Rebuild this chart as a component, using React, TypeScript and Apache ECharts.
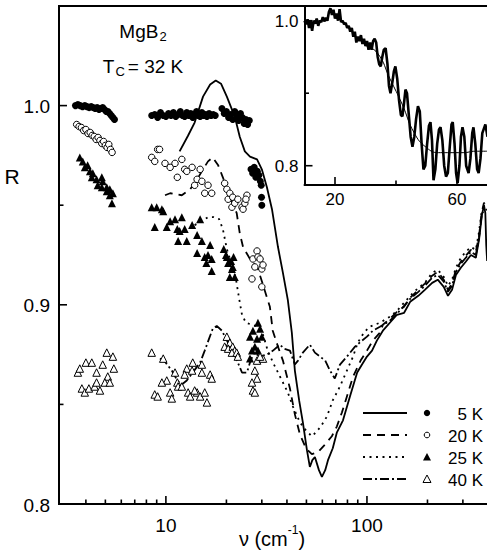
import React, { useEffect, useRef } from 'react';
import * as echarts from 'echarts';

const FONT = '"Liberation Sans", Arial, Helvetica, sans-serif';

// ---- main panel: reflectivity R vs wavenumber (cm^-1) ----
const line5K: [number, number][] = [
  [11.7, 0.977], [12.9, 0.985], [13.9, 0.9915], [15.3, 1.0045], [16.6, 1.0106], [17.7, 1.0126],
  [18.8, 1.011], [20.1, 1.0045], [22.0, 0.9945], [23.3, 0.9844], [24.7, 0.977], [26.2, 0.9744],
  [28.4, 0.973], [30.0, 0.968], [31.8, 0.959], [33.7, 0.948], [36.1, 0.929], [38.2, 0.916],
  [40.4, 0.9025], [42.3, 0.886], [43.8, 0.867], [46.0, 0.852], [48.0, 0.841], [50.3, 0.827],
  [52.0, 0.8186], [53.5, 0.822], [55.1, 0.8236], [57.7, 0.817], [59.7, 0.8136], [62.0, 0.817],
  [64.0, 0.822], [67.6, 0.828], [70.9, 0.836], [76.0, 0.842], [82.3, 0.854], [89.4, 0.866],
  [94.5, 0.87], [100, 0.874], [106, 0.877], [112, 0.882], [120, 0.887], [130, 0.891],
  [141, 0.895], [153, 0.896], [164, 0.9015], [180, 0.9045], [194, 0.9075], [211, 0.911],
  [225, 0.9126], [241, 0.909], [253, 0.9045], [265, 0.9075], [277, 0.915], [293, 0.9186],
  [310, 0.9216], [329, 0.925], [348, 0.9236], [361, 0.9327], [373, 0.945], [382, 0.95],
  [388, 0.946], [392, 0.93], [396, 0.922]
];
const line20K: [number, number][] = [
  [9.9, 0.955], [10.5, 0.956], [12.0, 0.955], [13.2, 0.958], [14.3, 0.963], [15.3, 0.968],
  [16.2, 0.972], [17.1, 0.974], [18.2, 0.97], [19.2, 0.964], [20.8, 0.954], [22.5, 0.946],
  [23.3, 0.936], [24.2, 0.929], [26.2, 0.923], [28.7, 0.918], [30.4, 0.91], [32.9, 0.899],
  [34.0, 0.887], [36.1, 0.879], [38.2, 0.872], [41.4, 0.858], [43.8, 0.845], [46.4, 0.835],
  [49.7, 0.828], [53.2, 0.825], [57.1, 0.826], [62.0, 0.83], [66.9, 0.834], [70.9, 0.839],
  [75.1, 0.846], [79.5, 0.854], [85.3, 0.864], [93.0, 0.872], [100, 0.877], [107, 0.882],
  [116, 0.886], [120, 0.89], [130, 0.893], [141, 0.8965], [153, 0.899], [164, 0.9035],
  [180, 0.9075], [194, 0.9106], [211, 0.9146], [225, 0.9166], [241, 0.9126], [253, 0.9075],
  [265, 0.9106], [277, 0.9176], [293, 0.9216], [310, 0.9246], [329, 0.9276], [348, 0.9266],
  [361, 0.9347], [373, 0.9467], [382, 0.9513], [395, 0.948]
];
const line25K: [number, number][] = [
  [13.9, 0.94], [15.1, 0.942], [16.2, 0.944], [17.3, 0.944], [18.4, 0.943], [19.2, 0.938],
  [20.1, 0.928], [21.3, 0.92], [22.3, 0.913], [23.1, 0.9035], [23.9, 0.895], [25.0, 0.891],
  [26.8, 0.89], [28.7, 0.889], [30.4, 0.885], [32.1, 0.877], [34.1, 0.871], [36.1, 0.866],
  [38.2, 0.861], [40.4, 0.856], [42.8, 0.849], [46.4, 0.841], [49.7, 0.837], [53.2, 0.834],
  [55.8, 0.836], [59.0, 0.839], [63.3, 0.844], [67.6, 0.852], [73.4, 0.859], [79.5, 0.867],
  [85.3, 0.874], [90.0, 0.881], [96.6, 0.886], [103, 0.889], [116, 0.891], [130, 0.894],
  [141, 0.897], [153, 0.901], [164, 0.9045], [180, 0.9085], [194, 0.911], [211, 0.916],
  [225, 0.9176], [241, 0.914], [253, 0.9095], [265, 0.9126], [277, 0.9186], [293, 0.9236],
  [310, 0.9266], [329, 0.929], [348, 0.9276], [361, 0.9367], [373, 0.9477], [395, 0.949]
];
const line40K: [number, number][] = [
  [9.34, 0.873], [9.9, 0.8714], [10.7, 0.867], [11.4, 0.862], [12.0, 0.86], [12.7, 0.862],
  [13.6, 0.866], [14.8, 0.871], [15.6, 0.877], [16.4, 0.883], [17.1, 0.888], [17.9, 0.8894],
  [19.0, 0.887], [20.1, 0.882], [21.5, 0.877], [22.8, 0.871], [23.9, 0.866], [25.3, 0.866],
  [26.2, 0.871], [27.4, 0.876], [29.4, 0.874], [31.8, 0.875], [34.1, 0.877], [36.9, 0.88],
  [38.7, 0.878], [41.4, 0.877], [43.8, 0.87], [45.4, 0.872], [48.0, 0.876], [52.0, 0.88],
  [55.1, 0.876], [58.4, 0.874], [62.0, 0.872], [65.5, 0.867], [69.2, 0.863], [73.4, 0.87],
  [79.5, 0.874], [87.2, 0.879], [94.5, 0.882], [100, 0.884], [107, 0.887], [116, 0.889],
  [130, 0.892], [141, 0.8955], [153, 0.8995], [164, 0.903], [180, 0.9065], [194, 0.9095],
  [211, 0.9136], [225, 0.915], [241, 0.9116], [253, 0.9065], [265, 0.9095], [277, 0.9166],
  [293, 0.9206], [310, 0.9236], [329, 0.9266], [348, 0.925], [361, 0.9337], [373, 0.946],
  [395, 0.948]
];

const dots5K: [number, number][] = [
  [3.55, 1.0], [3.65, 1.0005], [3.75, 1.0], [3.85, 0.9995], [3.95, 1.0], [4.05, 0.9995],
  [4.15, 0.999], [4.25, 0.9995], [4.35, 0.999], [4.45, 0.9985], [4.55, 0.999], [4.65, 0.998],
  [4.75, 0.9985], [4.85, 0.999], [4.95, 0.998], [5.05, 0.997], [5.15, 0.997], [5.25, 0.996],
  [5.35, 0.995], [5.45, 0.994], [5.55, 0.993],
  [8.5, 0.995], [8.8, 0.9955], [9.1, 0.994], [9.4, 0.9965], [9.7, 0.995], [10.0, 0.9945],
  [10.3, 0.996], [10.6, 0.995], [10.9, 0.9965], [11.2, 0.9945], [11.5, 0.9955], [11.8, 0.997],
  [12.1, 0.995], [12.4, 0.9945], [12.7, 0.9965], [13.0, 0.995], [13.3, 0.996], [13.6, 0.994],
  [13.9, 0.9955], [14.2, 0.997], [14.5, 0.995], [14.8, 0.9945], [15.1, 0.9965], [15.4, 0.995],
  [15.7, 0.9955], [16.0, 0.9945], [16.4, 0.996], [16.8, 0.995], [17.2, 0.9955], [17.6, 0.995],
  [19.0, 0.9985], [19.5, 0.996], [20.0, 0.997], [20.5, 0.994], [21.0, 0.9955], [21.5, 0.993],
  [22.0, 0.997], [22.5, 0.995], [23.0, 0.9925], [23.5, 0.996], [24.0, 0.994], [24.5, 0.991],
  [25.0, 0.993], [25.5, 0.9905], [26.0, 0.9925],
  [26.5, 0.968], [27.0, 0.966], [27.5, 0.969], [28.0, 0.964], [28.5, 0.967], [29.0, 0.965],
  [29.5, 0.962], [29.8, 0.96], [29.9, 0.954], [30.0, 0.95]
];
const circles20K: [number, number][] = [
  [3.6, 0.9905], [3.7, 0.9895], [3.8, 0.989], [3.9, 0.9875], [4.0, 0.988], [4.1, 0.986],
  [4.2, 0.9865], [4.3, 0.985], [4.4, 0.9845], [4.5, 0.983], [4.6, 0.984], [4.7, 0.9825],
  [4.8, 0.981], [4.9, 0.982], [5.0, 0.98], [5.1, 0.979], [5.2, 0.9805], [5.3, 0.978], [5.4, 0.9765],
  [8.5, 0.974], [9.1, 0.978], [8.8, 0.972], [9.3, 0.978], [9.9, 0.971], [10.5, 0.969],
  [11.1, 0.971], [11.4, 0.964], [12.0, 0.973], [12.4, 0.968], [12.7, 0.967], [13.5, 0.969],
  [13.9, 0.96], [14.3, 0.963], [14.8, 0.968], [15.1, 0.962], [15.6, 0.956], [16.2, 0.96],
  [16.9, 0.956], [19.6, 0.961], [20.1, 0.958], [20.4, 0.953], [20.8, 0.956], [21.3, 0.949],
  [21.5, 0.954], [22.0, 0.951], [22.8, 0.953], [23.9, 0.949], [24.2, 0.948], [24.7, 0.951],
  [25.3, 0.955], [25.0, 0.953],
  [26.8, 0.913], [27.1, 0.923], [27.7, 0.919], [28.4, 0.927], [28.7, 0.924], [29.4, 0.923],
  [30.0, 0.918], [30.0, 0.909], [30.4, 0.92]
];
const tri25K: [number, number][] = [
  [3.73, 0.974], [3.86, 0.972], [3.95, 0.969], [4.08, 0.97], [4.19, 0.967], [4.33, 0.966],
  [4.28, 0.964], [4.52, 0.963], [4.58, 0.96], [4.8, 0.964], [4.85, 0.962], [4.8, 0.959],
  [5.08, 0.959], [5.08, 0.957], [5.26, 0.958], [5.26, 0.955], [5.45, 0.956], [5.39, 0.951],
  [8.5, 0.949], [9.0, 0.949], [9.55, 0.948], [8.8, 0.939], [9.7, 0.947], [10.1, 0.939],
  [10.5, 0.942], [11.1, 0.943], [12.0, 0.944], [11.4, 0.938], [11.7, 0.937], [12.4, 0.938],
  [11.5, 0.932], [12.7, 0.932], [13.5, 0.94], [14.3, 0.935], [14.8, 0.943], [15.1, 0.932],
  [14.3, 0.926], [15.6, 0.924], [16.6, 0.93], [16.2, 0.925], [16.9, 0.923], [15.9, 0.921],
  [16.9, 0.917], [20.1, 0.924], [20.4, 0.921], [21.3, 0.918], [21.5, 0.919], [22.0, 0.914],
  [20.8, 0.914], [19.4, 0.928], [19.9, 0.925], [21.1, 0.922], [21.7, 0.924],
  [28.7, 0.891], [29.4, 0.888], [27.1, 0.887], [28.4, 0.883], [26.2, 0.884], [30.0, 0.884],
  [27.7, 0.879], [26.8, 0.877], [26.2, 0.873], [28.7, 0.877]
];
const openTri40K: [number, number][] = [
  [3.65, 0.866], [3.73, 0.868], [4.0, 0.871], [4.28, 0.871], [4.52, 0.866], [4.85, 0.87],
  [5.08, 0.876], [5.45, 0.874], [5.14, 0.864], [5.51, 0.868], [3.82, 0.858], [3.95, 0.856],
  [4.14, 0.858], [4.42, 0.859], [4.7, 0.857], [4.52, 0.861], [4.97, 0.861], [5.26, 0.861],
  [8.5, 0.876], [9.7, 0.873], [11.1, 0.866], [10.1, 0.862], [9.55, 0.861], [8.8, 0.855],
  [9.1, 0.854], [10.5, 0.856], [10.7, 0.853], [11.4, 0.861], [11.5, 0.859], [12.0, 0.859],
  [12.7, 0.868], [13.6, 0.871], [13.5, 0.867], [12.4, 0.865], [12.9, 0.856], [13.2, 0.854],
  [14.3, 0.856], [13.9, 0.857], [14.8, 0.854], [15.6, 0.856], [16.0, 0.851], [15.1, 0.87],
  [15.1, 0.866], [16.6, 0.865], [16.9, 0.863],
  [20.1, 0.884], [19.6, 0.879], [20.8, 0.881], [20.4, 0.878], [21.5, 0.879], [22.0, 0.877],
  [21.3, 0.876], [22.5, 0.876], [22.8, 0.874],
  [28.4, 0.872], [27.7, 0.867], [28.4, 0.863], [26.8, 0.861], [27.1, 0.857], [27.7, 0.856],
  [30.4, 0.873], [29.4, 0.874]
];

// ---- inset: R vs wavenumber, linear axis ----
const insetCurve: [number, number][] = [
  [10.0, 1.0], [10.5, 0.995], [11, 1.002], [11.5, 0.99], [12, 1.0], [12.5, 0.986], [13, 1.0],
  [13.5, 0.996], [14, 1.003], [14.5, 0.993], [15, 1.0], [15.5, 0.998], [16, 1.005], [16.5, 0.999],
  [17, 1.004], [17.5, 1.0], [18, 1.012], [18.5, 1.017], [19, 1.008], [19.5, 1.015], [20, 1.003],
  [20.5, 1.01], [21, 1.0], [21.5, 1.016], [22, 0.998], [22.5, 1.0], [23, 0.995], [23.5, 0.997],
  [24, 0.99], [24.5, 0.993], [25, 0.985], [25.5, 0.99], [26, 0.978], [26.5, 0.985], [27, 0.97],
  [27.5, 0.978], [28, 0.972], [28.5, 0.98], [29, 0.968], [29.5, 0.975], [30, 0.965], [30.5, 0.972],
  [31, 0.96], [31.5, 0.97], [32, 0.96], [32.5, 0.972], [33, 0.975], [33.5, 0.97], [34, 0.95],
  [34.5, 0.94], [35, 0.937], [35.5, 0.95], [36, 0.96], [36.6, 0.962], [37.2, 0.94], [37.7, 0.91],
  [38.2, 0.9], [38.8, 0.915], [39.3, 0.93], [39.8, 0.937], [40.4, 0.92], [41, 0.89], [41.6, 0.87],
  [42.1, 0.868], [42.6, 0.885], [43.1, 0.905], [43.6, 0.9], [44.2, 0.87], [44.8, 0.84],
  [45.4, 0.826], [46, 0.84], [46.6, 0.865], [47.2, 0.882], [47.8, 0.875], [48.4, 0.83],
  [49, 0.795], [49.6, 0.8], [50.2, 0.83], [50.8, 0.855], [51.3, 0.86], [51.8, 0.835], [52.3, 0.78],
  [52.9, 0.795], [53.5, 0.83], [54.1, 0.85], [54.6, 0.853], [55.2, 0.835], [55.8, 0.8],
  [56.4, 0.785], [57, 0.79], [57.6, 0.825], [58.2, 0.857], [58.6, 0.86], [59.2, 0.83],
  [59.7, 0.79], [60.2, 0.776], [60.8, 0.8], [61.3, 0.84], [61.8, 0.853], [62.4, 0.84], [63, 0.8],
  [63.8, 0.79], [64.4, 0.81], [65, 0.845], [65.4, 0.853], [66, 0.83], [66.6, 0.795], [67.1, 0.79],
  [67.7, 0.81], [68.3, 0.845], [69.3, 0.857], [70, 0.84]
];
const insetFit: [number, number][] = [
  [30, 0.966], [34, 0.955], [38, 0.92], [42, 0.885], [46, 0.845], [50, 0.825], [54, 0.818],
  [58, 0.818], [62, 0.818], [66, 0.82], [70, 0.82]
];

// ---- ticks ----
const xMajorTicks = [10, 100];
const xMinorTicks = [4, 5, 6, 7, 8, 9, 20, 30, 40, 50, 60, 70, 80, 90, 200, 300];
const yMajorTicks = [0.8, 0.9, 1.0];
const yMinorTicks = [0.85, 0.95];
const insetXMajor = [20, 60];
const insetXMinor = [40];
const insetYMajor = [0.8, 1.0];
const insetYMinor = [0.9];

// ---- legend ----
const legendLabels = ['5 K', '20 K', '25 K', '40 K'];
const legendDashes: (number[] | null)[] = [null, [8, 6], [2, 4.5], [9, 3, 2, 3]];
const legendMarkers = ['dot', 'circle', 'triangle', 'openTriangle'];

export default function App() {
  const ref = useRef<HTMLDivElement>(null);
  useEffect(() => {
    const chart = echarts.init(ref.current!, null, { renderer: 'svg' });
    const lineSeries = (data: [number, number][], type: any, width: number) => ({
      type: 'line', data, showSymbol: false, symbol: 'none', xAxisIndex: 0, yAxisIndex: 0,
      lineStyle: { color: '#000', width, type, opacity: 1 }, z: 3
    });
    const scatter = (data: [number, number][], symbol: string, size: number, filled: boolean) => ({
      type: 'scatter', data, symbol, symbolSize: size, xAxisIndex: 0, yAxisIndex: 0,
      itemStyle: filled ? { color: '#000', opacity: 1 } : { color: '#fff', borderColor: '#000', borderWidth: 1, opacity: 1 }, z: 4
    });
    chart.setOption({
      animation: false,
      grid: [
        { left: 59, top: 6, width: 429, height: 498, show: true, borderColor: '#000', borderWidth: 2, backgroundColor: 'transparent' },
        { left: 304.5, top: 7, width: 183, height: 178, show: true, borderWidth: 0, backgroundColor: '#fff' }
      ],
      xAxis: [
        { type: 'log', logBase: 10, min: 2.94, max: 400, gridIndex: 0,
          axisLine: { show: true, lineStyle: { color: '#000', width: 2 } },
          axisTick: { show: false }, axisLabel: { show: false }, splitLine: { show: false } },
        { type: 'value', min: 10, max: 70, gridIndex: 1,
          axisLine: { show: true, lineStyle: { color: '#000', width: 2 } },
          axisTick: { show: false }, axisLabel: { show: false }, splitLine: { show: false } }
      ],
      yAxis: [
        { type: 'value', min: 0.8, max: 1.05, interval: 0.1, gridIndex: 0,
          axisLine: { show: true, lineStyle: { color: '#000', width: 2 } },
          axisTick: { show: false }, axisLabel: { show: false }, splitLine: { show: false } },
        { type: 'value', min: 0.7734, max: 1.0189, gridIndex: 1,
          axisLine: { show: true, lineStyle: { color: '#000', width: 2 } },
          axisTick: { show: false }, axisLabel: { show: false }, splitLine: { show: false } }
      ],
      series: [
        scatter(dots5K, 'circle', 7, true),
        scatter(circles20K, 'circle', 6.5, false),
        scatter(tri25K, 'triangle', 8, true),
        scatter(openTri40K, 'triangle', 7.5, false),
        lineSeries(line5K, 'solid', 1.8),
        lineSeries(line20K, [8, 6], 1.8),
        lineSeries(line25K, [2, 4.5], 1.8),
        lineSeries(line40K, [9, 3, 2, 3], 1.8),
        { type: 'line', data: insetCurve, xAxisIndex: 1, yAxisIndex: 1, showSymbol: false, symbol: 'none',
          lineStyle: { color: '#000', width: 2.6 }, z: 5 },
        { type: 'line', data: insetFit, xAxisIndex: 1, yAxisIndex: 1, showSymbol: false, symbol: 'none',
          smooth: true, lineStyle: { color: '#000', width: 1 }, z: 6 }
      ]
    });

    const cx = (i: number, v: number) => chart.convertToPixel({ xAxisIndex: i } as any, v) as number;
    const cy = (i: number, v: number) => chart.convertToPixel({ yAxisIndex: i } as any, v) as number;
    const g: any[] = [];
    const tick = (x1: number, y1: number, x2: number, y2: number) =>
      g.push({ type: 'line', shape: { x1, y1, x2, y2 }, style: { stroke: '#000', lineWidth: 1.6 }, z: 20 });
    const txt = (text: string, x: number, y: number, size: number, align: string, valign: string) =>
      g.push({ type: 'text', x, y, z: 20, style: { text, fill: '#000', font: `${size}px ${FONT}`, textAlign: align, textVerticalAlign: valign } });

    // main axes
    const yb = cy(0, 0.8), xl = cx(0, 2.94);
    xMajorTicks.forEach(v => { const x = cx(0, v); tick(x, yb, x, yb - 8); txt(String(v), x, yb + 12, 19, 'center', 'top'); });
    xMinorTicks.forEach(v => { const x = cx(0, v); tick(x, yb, x, yb - 4.5); });
    yMajorTicks.forEach(v => { const y = cy(0, v); tick(xl, y, xl + 8, y); txt(v.toFixed(1), xl - 9, y + 1, 19, 'right', 'middle'); });
    yMinorTicks.forEach(v => { const y = cy(0, v); tick(xl, y, xl + 4.5, y); });

    // inset axes
    const ib = cy(1, 0.7734), il = cx(1, 10);
    insetXMajor.forEach(v => { const x = cx(1, v); tick(x, ib, x, ib - 8); txt(String(v), x, ib + 6, 17, 'center', 'top'); });
    insetXMinor.forEach(v => { const x = cx(1, v); tick(x, ib, x, ib - 4.5); });
    insetYMajor.forEach(v => { const y = cy(1, v); tick(il, y, il + 8, y); txt(v.toFixed(1), il - 6, y + 1, 17, 'right', 'middle'); });
    insetYMinor.forEach(v => { const y = cy(1, v); tick(il, y, il + 4.5, y); });

    // axis titles and annotations
    txt('R', 12, 176, 21, 'center', 'middle');
    g.push({ type: 'text', x: 272, y: 524, z: 20, style: {
      text: '{m|\u03bd (cm}{s|-1}{m|)}', textAlign: 'center', textVerticalAlign: 'top', fill: '#000',
      rich: { m: { fontSize: 20, fontFamily: FONT, lineHeight: 30, fill: '#000' },
              s: { fontSize: 12, fontFamily: FONT, lineHeight: 8, verticalAlign: 'top', fill: '#000' } } } });
    g.push({ type: 'text', x: 143, y: 19, z: 20, style: {
      text: '{m|MgB}{s|2}', textAlign: 'center', textVerticalAlign: 'top', fill: '#000',
      rich: { m: { fontSize: 19, fontFamily: FONT, lineHeight: 24, fill: '#000' },
              s: { fontSize: 13, fontFamily: FONT, lineHeight: 12, verticalAlign: 'bottom', padding: [0, 0, 0, 1], fill: '#000' } } } });
    g.push({ type: 'text', x: 143, y: 54, z: 20, style: {
      text: '{m|T}{s|C}{m|= 32 K}', textAlign: 'center', textVerticalAlign: 'top', fill: '#000',
      rich: { m: { fontSize: 19, fontFamily: FONT, lineHeight: 24, fill: '#000' },
              s: { fontSize: 13, fontFamily: FONT, lineHeight: 12, verticalAlign: 'bottom', padding: [0, 3, 0, 1], fill: '#000' } } } });

    // legend
    legendLabels.forEach((label, i) => {
      const y = 413 + i * 22;
      const dash = legendDashes[i];
      g.push({ type: 'line', z: 20, shape: { x1: 363, y1: y, x2: 407, y2: y },
        style: { stroke: '#000', lineWidth: 2, lineDash: dash || undefined } });
      const m = legendMarkers[i];
      if (m === 'dot') g.push({ type: 'circle', z: 20, shape: { cx: 427, cy: y, r: 3.2 }, style: { fill: '#000' } });
      if (m === 'circle') g.push({ type: 'circle', z: 20, shape: { cx: 427, cy: y, r: 2.8 }, style: { fill: '#fff', stroke: '#000', lineWidth: 1 } });
      if (m === 'triangle' || m === 'openTriangle') g.push({ type: 'polygon', z: 20,
        shape: { points: [[427, y - 4], [431, y + 3.5], [423, y + 3.5]] },
        style: m === 'triangle' ? { fill: '#000' } : { fill: '#fff', stroke: '#000', lineWidth: 1 } });
      txt(label, 483, y + 1, 17, 'right', 'middle');
    });

    chart.setOption({ graphic: g });
    return () => chart.dispose();
  }, []);
  return <div ref={ref} style={{ position: 'fixed', left: 0, top: 0, width: 490, height: 555, background: '#fff' }} />;
}
